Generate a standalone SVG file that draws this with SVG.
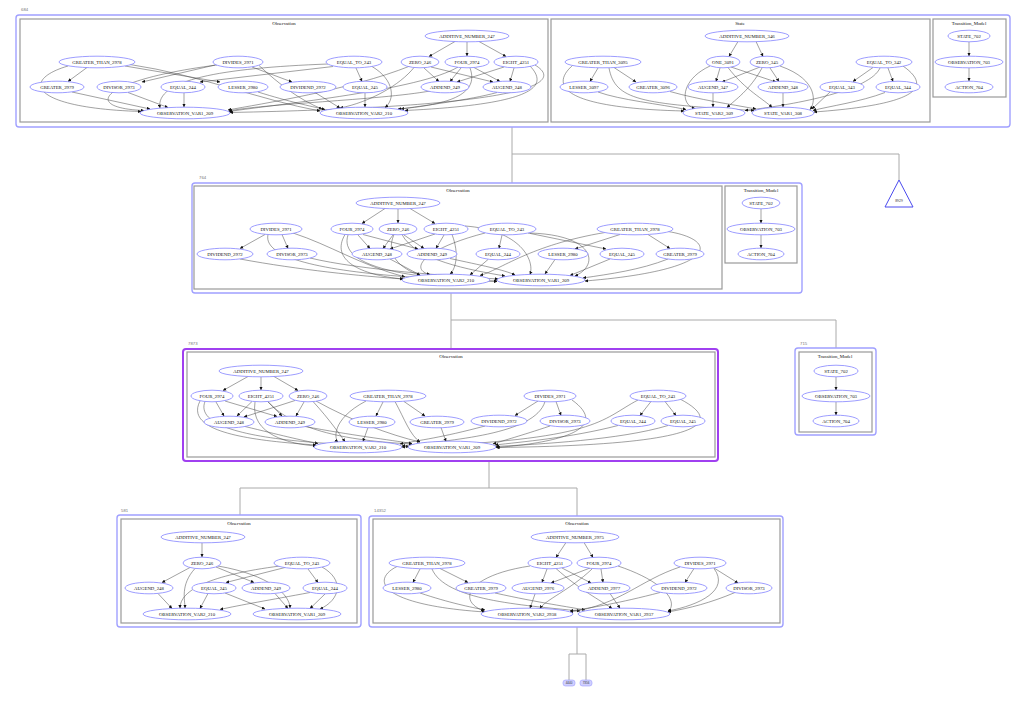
<svg xmlns="http://www.w3.org/2000/svg" width="1023" height="706" viewBox="0 0 1023 706">
<defs>
<marker id="ah" viewBox="0 0 10 10" refX="9" refY="5" markerWidth="3.6" markerHeight="3.6" markerUnits="userSpaceOnUse" orient="auto"><path d="M0,0.5 L10,5 L0,9.5z" fill="#111"/></marker>
<style>
.n ellipse{fill:#fff;stroke:#8484ff;stroke-width:0.8}
.n text,.cl{font-family:'Liberation Serif',serif;font-size:4.8px;text-anchor:middle;fill:#111}
.e path{fill:none;stroke:#444;stroke-width:0.5;marker-end:url(#ah)}
.ob{fill:none;stroke:#a0a0ff;stroke-width:1.4}
.pb{fill:none;stroke:#a040f0;stroke-width:2}
.ib{fill:none;stroke:#999;stroke-width:1.2}
.id{font-family:'Liberation Sans',sans-serif;font-size:4.3px;fill:#777}
.tr path{fill:none;stroke:#aaa;stroke-width:1}
.lf rect{fill:#d0d0ff;stroke:#9c9cff;stroke-width:0.6}
.lf text{font-family:'Liberation Sans',sans-serif;font-size:3px;text-anchor:middle;fill:#333}
</style>
</defs>
<rect width="1023" height="706" fill="#fff"/>

<g id="tree" class="tr">
<path d="M512,127 V183"/>
<path d="M512,154 H899 V180"/>
<path d="M451,293 V349"/>
<path d="M451,320 H836 V348"/>
<path d="M489,461 V488"/>
<path d="M240,488 H577"/>
<path d="M240,488 V515"/>
<path d="M577,488 V516"/>
<path d="M577,627 V654 M569,654 H586 M569,654 V680 M586,654 V680"/>
</g>

<!-- cluster frames -->
<g id="cluster_684">
<text class="id" x="21" y="11">684</text>
<rect class="ob" x="16" y="15" width="994" height="112" rx="3"/>
<rect class="ib" x="20" y="19" width="528" height="103"/>
<text class="cl" x="284" y="24.5">Observation</text>
<rect class="ib" x="551" y="19" width="379" height="103"/>
<text class="cl" x="740" y="24.5">State</text>
<rect class="ib" x="933" y="19" width="73" height="78"/>
<text class="cl" x="969" y="24.5">Transition_Model</text>
</g>
<g id="cluster_764">
<text class="id" x="199" y="179">764</text>
<rect class="ob" x="192" y="183" width="610" height="110" rx="3"/>
<rect class="ib" x="194" y="186" width="528" height="103"/>
<text class="cl" x="458" y="191.5">Observation</text>
<rect class="ib" x="725" y="186" width="72" height="77"/>
<text class="cl" x="761" y="191.5">Transition_Model</text>
</g>
<g id="cluster_7873">
<text class="id" x="188" y="345">7873</text>
<rect class="pb" x="183" y="349" width="535" height="112" rx="3"/>
<rect class="ib" x="187" y="352" width="528" height="105"/>
<text class="cl" x="451" y="358">Observation</text>
</g>
<g id="cluster_715">
<text class="id" x="800" y="345">715</text>
<rect class="ob" x="795" y="348" width="81" height="87" rx="3"/>
<rect class="ib" x="799" y="352" width="73" height="80"/>
<text class="cl" x="835" y="358">Transition_Model</text>
</g>
<g id="cluster_581">
<text class="id" x="121" y="512">581</text>
<rect class="ob" x="117" y="515" width="244" height="112" rx="3"/>
<rect class="ib" x="121" y="519" width="236" height="104"/>
<text class="cl" x="239" y="525">Observation</text>
</g>
<g id="cluster_14352">
<text class="id" x="374" y="512">14352</text>
<rect class="ob" x="369" y="516" width="414" height="111" rx="3"/>
<rect class="ib" x="373" y="519" width="407" height="104"/>
<text class="cl" x="577" y="525">Observation</text>
</g>

<g id="connectors" class="e">
<!-- 684 Observation -->
<path d="M455,41.5 L429,56.5"/>
<path d="M467,42 L467,56"/>
<path d="M479,41.5 L506,56.5"/>
<path d="M424,68 L439,81.5"/>
<path d="M431,67 L493,82"/>
<path d="M461,68 L450,81.5"/>
<path d="M474,67.5 L500,81.5"/>
<path d="M504,67 L457,82"/>
<path d="M514,68 L510,81.5"/>
<path d="M430,91 C380,100 260,104 229,111"/>
<path d="M497,92.5 C470,100 420,106 401,109"/>
<path d="M414,67.5 C400,85 370,102 340,108"/>
<path d="M410,66 C350,90 260,104 228,110"/>
<path d="M470,68 C478,90 460,104 398,109"/>
<path d="M458,67 C420,90 280,104 229,111.5"/>
<path d="M530,66 C548,85 540,104 405,110.5"/>
<path d="M535,65 C560,80 552,106 230,112.5"/>
<path d="M87,67.5 L68,81.5"/>
<path d="M125,66 L220,82"/>
<path d="M68,66 C20,80 30,108 141,111.5"/>
<path d="M130,64.5 C200,75 260,100 320,111"/>
<path d="M215,65 L142,82"/>
<path d="M252,67 L292,82"/>
<path d="M217,65 C100,80 80,108 144,110.5"/>
<path d="M259,65.5 C280,85 300,100 322,109"/>
<path d="M333,66.5 L200,82"/>
<path d="M356,68 L362,81.5"/>
<path d="M328,64 C220,68 155,80 160,108"/>
<path d="M372,66.5 C395,80 395,100 385,107.5"/>
<path d="M72,92 L150,109"/>
<path d="M128,92.5 L168,107.5"/>
<path d="M184,93 L184,107"/>
<path d="M258,92 C290,102 310,106 325,109.5"/>
<path d="M315,92.5 L340,108"/>
<path d="M365,93 L365,107"/>
<!-- State -->
<path d="M738,41.5 L729,56.5"/>
<path d="M756,41.5 L763,56.5"/>
<path d="M720,68 L716,81.5"/>
<path d="M731,67 L776,82"/>
<path d="M760,67 L722,82"/>
<path d="M770,68 L779,81.5"/>
<path d="M728,67.5 C745,90 765,100 772,107.5"/>
<path d="M710,66 C680,80 680,105 695,108.5"/>
<path d="M762,68 C750,90 735,100 727,107.5"/>
<path d="M780,66 C820,80 815,104 810,109.5"/>
<path d="M713,93 L713,107"/>
<path d="M783,93 L783,107"/>
<path d="M598,68 L590,81.5"/>
<path d="M614,67.5 L636,82"/>
<path d="M573,65 C550,85 560,108 684,111"/>
<path d="M609,68 C615,100 640,104 754,110.5"/>
<path d="M598,92 C620,100 660,104 686,109.5"/>
<path d="M670,91.5 C700,100 730,104 756,109"/>
<path d="M873,67.5 L853,81.5"/>
<path d="M888,68 L893,81.5"/>
<path d="M880,68 C870,90 800,104 745,110.5"/>
<path d="M903,66 C930,85 925,104 814,112"/>
<path d="M830,92 L812,109"/>
<path d="M885,92.5 C860,102 830,106 813,110.5"/>
<!-- TM 684 -->
<path d="M969,42 L969,56"/>
<path d="M969,68 L969,81"/>
<!-- 764 Observation -->
<path d="M385,208.5 L362,223.5"/>
<path d="M398,209 L398,223"/>
<path d="M410,208.5 L435,223.5"/>
<path d="M358,235 L370,248.5"/>
<path d="M363,234.5 L418,249"/>
<path d="M393,235 L383,248.5"/>
<path d="M404,235 L424,248.5"/>
<path d="M435,234 L390,249"/>
<path d="M444,235 L436,248.5"/>
<path d="M390,259 L420,275"/>
<path d="M450,258.5 C480,265 505,270 515,275"/>
<path d="M345,234.5 C330,260 360,275 403,279"/>
<path d="M348,235 C335,275 450,280 497,281"/>
<path d="M394,234.5 C385,255 400,268 420,275.5"/>
<path d="M402,234.5 C415,260 470,270 505,276"/>
<path d="M452,234.5 C460,255 455,270 450,274"/>
<path d="M465,226 C520,230 535,260 530,274.5"/>
<path d="M265,234.5 L240,248.5"/>
<path d="M282,234.5 L288,248.5"/>
<path d="M293,233 C330,245 360,265 405,277"/>
<path d="M268,234.5 C260,270 400,278 497,281.5"/>
<path d="M240,259 C300,270 360,276 403,279"/>
<path d="M310,258 C360,270 450,276 498,279"/>
<path d="M502,235 L499,248.5"/>
<path d="M528,233 L606,249"/>
<path d="M485,233 C420,250 410,270 430,274.5"/>
<path d="M530,233 C595,235 600,265 575,276"/>
<path d="M488,259.5 L470,275"/>
<path d="M610,259 L570,275.5"/>
<path d="M620,234.5 L575,249"/>
<path d="M648,234.5 L670,248.5"/>
<path d="M605,232.5 C530,245 500,270 480,275.5"/>
<path d="M668,231.5 C720,240 720,270 585,281"/>
<path d="M555,259.5 L545,274"/>
<path d="M668,259 C640,270 610,274 583,278"/>
<!-- TM 764 -->
<path d="M761,209 L761,223"/>
<path d="M761,235 L761,248"/>
<!-- 7873 Observation -->
<path d="M248,376.5 L223,390.5"/>
<path d="M261,377 L261,390"/>
<path d="M274,376.5 L298,390.5"/>
<path d="M216,402 L224,416"/>
<path d="M225,401 L277,416.5"/>
<path d="M252,401.5 L237,416"/>
<path d="M268,401.5 L282,416"/>
<path d="M295,400.5 L244,417"/>
<path d="M304,402 L296,416"/>
<path d="M245,426.5 C280,435 300,440 318,443.5"/>
<path d="M305,426.5 C350,435 390,440 412,443.5"/>
<path d="M200,401 C185,430 240,440 316,445"/>
<path d="M205,401.5 C190,440 330,445 409,446.5"/>
<path d="M255,402 C250,435 290,444 316,446"/>
<path d="M268,402 C290,425 330,440 412,444"/>
<path d="M313,401.5 C330,420 340,435 345,441.5"/>
<path d="M316,401 C350,420 390,435 420,442"/>
<path d="M383,402 L376,416"/>
<path d="M404,401.5 L425,416"/>
<path d="M366,401 C330,420 335,440 338,441.8"/>
<path d="M395,401.5 C405,420 410,435 420,442"/>
<path d="M368,427.5 L363,441.5"/>
<path d="M441,427.5 L446,441.5"/>
<path d="M538,401 L515,415.5"/>
<path d="M556,401.5 L561,415.5"/>
<path d="M545,401.5 C535,435 450,440 402,446"/>
<path d="M572,400 C600,420 590,440 497,447.5"/>
<path d="M485,426 C440,438 420,440 400,444"/>
<path d="M550,426 C520,436 505,440 493,444"/>
<path d="M651,401.5 L640,415.5"/>
<path d="M665,401.5 L676,415.5"/>
<path d="M638,400 C600,420 600,440 402,447"/>
<path d="M680,399 C720,420 720,445 496,447.5"/>
<path d="M618,425.5 C570,438 520,442 495,445"/>
<path d="M668,425.5 C620,440 540,444 496,446.5"/>
<!-- TM 715 -->
<path d="M836,377 L836,390"/>
<path d="M836,402 L836,415"/>
<!-- 581 -->
<path d="M202,543 L202,557"/>
<path d="M190,567.5 L162,582.5"/>
<path d="M216,567 L254,582.5"/>
<path d="M195,568.5 C180,585 185,600 185,608"/>
<path d="M218,566 C270,575 290,595 290,608"/>
<path d="M285,567.5 L226,582.5"/>
<path d="M308,569 L318,582.5"/>
<path d="M280,566 C210,575 180,590 180,608.2"/>
<path d="M322,567 C345,580 340,600 320,609"/>
<path d="M158,593.5 L172,608.5"/>
<path d="M208,593.5 L200,608.5"/>
<path d="M225,593 L265,609"/>
<path d="M275,593.5 L288,608.5"/>
<path d="M310,592.5 C270,600 240,605 220,609.5"/>
<path d="M325,594 L310,608.5"/>
<!-- 14352 -->
<path d="M566,542.5 L556,557.5"/>
<path d="M584,542.5 L593,557.5"/>
<path d="M547,569 L542,582.5"/>
<path d="M562,568 L591,583"/>
<path d="M590,568 L551,583"/>
<path d="M601,569 L603,582.5"/>
<path d="M530,566 C470,575 455,600 484,611"/>
<path d="M556,568.5 C580,590 600,600 612,608.5"/>
<path d="M592,569 C570,590 545,600 540,608.5"/>
<path d="M618,566 C660,580 680,600 668,612"/>
<path d="M535,594 L530,608.2"/>
<path d="M610,593.5 L620,608.2"/>
<path d="M420,569 L413,582.5"/>
<path d="M440,568.5 L468,582.5"/>
<path d="M397,566.5 C370,580 380,605 485,612"/>
<path d="M432,569 C445,600 520,605 580,611"/>
<path d="M420,593 C450,603 470,607 485,610"/>
<path d="M495,593 C540,603 570,607 585,610"/>
<path d="M694,568.5 L685,582.5"/>
<path d="M714,568 L738,583"/>
<path d="M680,567 C640,580 620,605 570,612"/>
<path d="M714,568.5 C730,590 700,605 668,611"/>
<path d="M660,592.5 C620,603 590,608 570,611"/>
<path d="M735,592.5 C710,603 690,608 668,612"/>
</g>

<!-- nodes 684 Observation -->
<g id="o684_ADDITIVE_NUMBER_247" class="n"><ellipse cx="467" cy="36" rx="42" ry="5.8"/><text x="467" y="37.7">ADDITIVE_NUMBER_247</text></g>
<g id="o684_GREATER_THAN_2978" class="n"><ellipse cx="97" cy="62" rx="38" ry="5.8"/><text x="97" y="63.7">GREATER_THAN_2978</text></g>
<g id="o684_DIVIDES_2971" class="n"><ellipse cx="238" cy="62" rx="25" ry="5.8"/><text x="238" y="63.7">DIVIDES_2971</text></g>
<g id="o684_EQUAL_TO_243" class="n"><ellipse cx="354" cy="62" rx="28" ry="5.8"/><text x="354" y="63.7">EQUAL_TO_243</text></g>
<g id="o684_ZERO_246" class="n"><ellipse cx="420" cy="62" rx="19" ry="5.8"/><text x="420" y="63.7">ZERO_246</text></g>
<g id="o684_FOUR_2974" class="n"><ellipse cx="467" cy="62" rx="22" ry="5.8"/><text x="467" y="63.7">FOUR_2974</text></g>
<g id="o684_EIGHT_4251" class="n"><ellipse cx="516" cy="62" rx="22" ry="5.8"/><text x="516" y="63.7">EIGHT_4251</text></g>
<g id="o684_GREATER_2979" class="n"><ellipse cx="57" cy="87" rx="27" ry="5.8"/><text x="57" y="88.7">GREATER_2979</text></g>
<g id="o684_DIVISOR_2973" class="n"><ellipse cx="119" cy="87" rx="22" ry="5.8"/><text x="119" y="88.7">DIVISOR_2973</text></g>
<g id="o684_EQUAL_244" class="n"><ellipse cx="183" cy="87" rx="22" ry="5.8"/><text x="183" y="88.7">EQUAL_244</text></g>
<g id="o684_LESSER_2980" class="n"><ellipse cx="243" cy="87" rx="25" ry="5.8"/><text x="243" y="88.7">LESSER_2980</text></g>
<g id="o684_DIVIDEND_2972" class="n"><ellipse cx="308" cy="87" rx="28" ry="5.8"/><text x="308" y="88.7">DIVIDEND_2972</text></g>
<g id="o684_EQUAL_245" class="n"><ellipse cx="365" cy="87" rx="22" ry="5.8"/><text x="365" y="88.7">EQUAL_245</text></g>
<g id="o684_ADDEND_249" class="n"><ellipse cx="445" cy="87" rx="24" ry="5.8"/><text x="445" y="88.7">ADDEND_249</text></g>
<g id="o684_AUGEND_248" class="n"><ellipse cx="507" cy="87" rx="24" ry="5.8"/><text x="507" y="88.7">AUGEND_248</text></g>
<g id="o684_OBSERVATION_VAR1_209" class="n"><ellipse cx="185" cy="113" rx="45" ry="5.8"/><text x="185" y="114.7">OBSERVATION_VAR1_209</text></g>
<g id="o684_OBSERVATION_VAR2_210" class="n"><ellipse cx="364" cy="113" rx="44" ry="5.8"/><text x="364" y="114.7">OBSERVATION_VAR2_210</text></g>
<!-- State -->
<g id="s684_ADDITIVE_NUMBER_346" class="n"><ellipse cx="747" cy="36" rx="42" ry="5.8"/><text x="747" y="37.7">ADDITIVE_NUMBER_346</text></g>
<g id="s684_GREATER_THAN_3095" class="n"><ellipse cx="603" cy="62" rx="38" ry="5.8"/><text x="603" y="63.7">GREATER_THAN_3095</text></g>
<g id="s684_ONE_3091" class="n"><ellipse cx="723" cy="62" rx="17" ry="5.8"/><text x="723" y="63.7">ONE_3091</text></g>
<g id="s684_ZERO_345" class="n"><ellipse cx="767" cy="62" rx="17" ry="5.8"/><text x="767" y="63.7">ZERO_345</text></g>
<g id="s684_EQUAL_TO_342" class="n"><ellipse cx="884" cy="62" rx="28" ry="5.8"/><text x="884" y="63.7">EQUAL_TO_342</text></g>
<g id="s684_LESSER_3097" class="n"><ellipse cx="584" cy="87" rx="24" ry="5.8"/><text x="584" y="88.7">LESSER_3097</text></g>
<g id="s684_GREATER_3096" class="n"><ellipse cx="653" cy="87" rx="24" ry="5.8"/><text x="653" y="88.7">GREATER_3096</text></g>
<g id="s684_AUGEND_347" class="n"><ellipse cx="713" cy="87" rx="25" ry="5.8"/><text x="713" y="88.7">AUGEND_347</text></g>
<g id="s684_ADDEND_348" class="n"><ellipse cx="783" cy="87" rx="25" ry="5.8"/><text x="783" y="88.7">ADDEND_348</text></g>
<g id="s684_EQUAL_343" class="n"><ellipse cx="842" cy="87" rx="22" ry="5.8"/><text x="842" y="88.7">EQUAL_343</text></g>
<g id="s684_EQUAL_344" class="n"><ellipse cx="898" cy="87" rx="22" ry="5.8"/><text x="898" y="88.7">EQUAL_344</text></g>
<g id="s684_STATE_VAR2_309" class="n"><ellipse cx="714" cy="113" rx="31" ry="5.8"/><text x="714" y="114.7">STATE_VAR2_309</text></g>
<g id="s684_STATE_VAR1_308" class="n"><ellipse cx="783" cy="113" rx="31" ry="5.8"/><text x="783" y="114.7">STATE_VAR1_308</text></g>
<!-- TM 684 -->
<g id="t684_STATE_702" class="n"><ellipse cx="969" cy="36" rx="21" ry="5.8"/><text x="969" y="37.7">STATE_702</text></g>
<g id="t684_OBSERVATION_703" class="n"><ellipse cx="969" cy="62" rx="34" ry="5.8"/><text x="969" y="63.7">OBSERVATION_703</text></g>
<g id="t684_ACTION_704" class="n"><ellipse cx="969" cy="87" rx="24" ry="5.8"/><text x="969" y="88.7">ACTION_704</text></g>

<!-- 764 -->
<g id="o764_ADDITIVE_NUMBER_247" class="n"><ellipse cx="398" cy="203" rx="42" ry="5.8"/><text x="398" y="204.7">ADDITIVE_NUMBER_247</text></g>
<g id="o764_DIVIDES_2971" class="n"><ellipse cx="276" cy="229" rx="26" ry="5.8"/><text x="276" y="230.7">DIVIDES_2971</text></g>
<g id="o764_FOUR_2974" class="n"><ellipse cx="352" cy="229" rx="21" ry="5.8"/><text x="352" y="230.7">FOUR_2974</text></g>
<g id="o764_ZERO_246" class="n"><ellipse cx="398" cy="229" rx="19" ry="5.8"/><text x="398" y="230.7">ZERO_246</text></g>
<g id="o764_EIGHT_4251" class="n"><ellipse cx="446" cy="229" rx="22" ry="5.8"/><text x="446" y="230.7">EIGHT_4251</text></g>
<g id="o764_EQUAL_TO_243" class="n"><ellipse cx="507" cy="229" rx="29" ry="5.8"/><text x="507" y="230.7">EQUAL_TO_243</text></g>
<g id="o764_GREATER_THAN_2978" class="n"><ellipse cx="635" cy="229" rx="38" ry="5.8"/><text x="635" y="230.7">GREATER_THAN_2978</text></g>
<g id="o764_DIVIDEND_2972" class="n"><ellipse cx="225" cy="254" rx="28" ry="5.8"/><text x="225" y="255.7">DIVIDEND_2972</text></g>
<g id="o764_DIVISOR_2973" class="n"><ellipse cx="292" cy="254" rx="25" ry="5.8"/><text x="292" y="255.7">DIVISOR_2973</text></g>
<g id="o764_AUGEND_248" class="n"><ellipse cx="377" cy="254" rx="25" ry="5.8"/><text x="377" y="255.7">AUGEND_248</text></g>
<g id="o764_ADDEND_249" class="n"><ellipse cx="432" cy="254" rx="25" ry="5.8"/><text x="432" y="255.7">ADDEND_249</text></g>
<g id="o764_EQUAL_244" class="n"><ellipse cx="498" cy="254" rx="22" ry="5.8"/><text x="498" y="255.7">EQUAL_244</text></g>
<g id="o764_LESSER_2980" class="n"><ellipse cx="563" cy="254" rx="25" ry="5.8"/><text x="563" y="255.7">LESSER_2980</text></g>
<g id="o764_EQUAL_245" class="n"><ellipse cx="622" cy="254" rx="22" ry="5.8"/><text x="622" y="255.7">EQUAL_245</text></g>
<g id="o764_GREATER_2979" class="n"><ellipse cx="680" cy="254" rx="24" ry="5.8"/><text x="680" y="255.7">GREATER_2979</text></g>
<g id="o764_OBSERVATION_VAR2_210" class="n"><ellipse cx="446" cy="280" rx="44" ry="5.8"/><text x="446" y="281.7">OBSERVATION_VAR2_210</text></g>
<g id="o764_OBSERVATION_VAR1_209" class="n"><ellipse cx="541" cy="280" rx="44" ry="5.8"/><text x="541" y="281.7">OBSERVATION_VAR1_209</text></g>
<g id="t764_STATE_702" class="n"><ellipse cx="761" cy="203" rx="19" ry="5.8"/><text x="761" y="204.7">STATE_702</text></g>
<g id="t764_OBSERVATION_703" class="n"><ellipse cx="761" cy="229" rx="34" ry="5.8"/><text x="761" y="230.7">OBSERVATION_703</text></g>
<g id="t764_ACTION_704" class="n"><ellipse cx="761" cy="254" rx="23" ry="5.8"/><text x="761" y="255.7">ACTION_704</text></g>

<!-- 7873 -->
<g id="o7873_ADDITIVE_NUMBER_247" class="n"><ellipse cx="261" cy="371" rx="42" ry="5.8"/><text x="261" y="372.7">ADDITIVE_NUMBER_247</text></g>
<g id="o7873_FOUR_2974" class="n"><ellipse cx="212" cy="396" rx="21" ry="5.8"/><text x="212" y="397.7">FOUR_2974</text></g>
<g id="o7873_EIGHT_4251" class="n"><ellipse cx="261" cy="396" rx="22" ry="5.8"/><text x="261" y="397.7">EIGHT_4251</text></g>
<g id="o7873_ZERO_246" class="n"><ellipse cx="308" cy="396" rx="19" ry="5.8"/><text x="308" y="397.7">ZERO_246</text></g>
<g id="o7873_GREATER_THAN_2978" class="n"><ellipse cx="388" cy="396" rx="38" ry="5.8"/><text x="388" y="397.7">GREATER_THAN_2978</text></g>
<g id="o7873_DIVIDES_2971" class="n"><ellipse cx="550" cy="396" rx="26" ry="5.8"/><text x="550" y="397.7">DIVIDES_2971</text></g>
<g id="o7873_EQUAL_TO_243" class="n"><ellipse cx="658" cy="396" rx="28" ry="5.8"/><text x="658" y="397.7">EQUAL_TO_243</text></g>
<g id="o7873_AUGEND_248" class="n"><ellipse cx="229" cy="422" rx="25" ry="5.8"/><text x="229" y="423.7">AUGEND_248</text></g>
<g id="o7873_ADDEND_249" class="n"><ellipse cx="290" cy="422" rx="25" ry="5.8"/><text x="290" y="423.7">ADDEND_249</text></g>
<g id="o7873_LESSER_2980" class="n"><ellipse cx="372" cy="422" rx="23" ry="5.8"/><text x="372" y="423.7">LESSER_2980</text></g>
<g id="o7873_GREATER_2979" class="n"><ellipse cx="437" cy="422" rx="27" ry="5.8"/><text x="437" y="423.7">GREATER_2979</text></g>
<g id="o7873_DIVIDEND_2972" class="n"><ellipse cx="499" cy="421" rx="28" ry="5.8"/><text x="499" y="422.7">DIVIDEND_2972</text></g>
<g id="o7873_DIVISOR_2973" class="n"><ellipse cx="565" cy="421" rx="25" ry="5.8"/><text x="565" y="422.7">DIVISOR_2973</text></g>
<g id="o7873_EQUAL_244" class="n"><ellipse cx="633" cy="421" rx="22" ry="5.8"/><text x="633" y="422.7">EQUAL_244</text></g>
<g id="o7873_EQUAL_245" class="n"><ellipse cx="683" cy="421" rx="22" ry="5.8"/><text x="683" y="422.7">EQUAL_245</text></g>
<g id="o7873_OBSERVATION_VAR2_210" class="n"><ellipse cx="358" cy="447" rx="44" ry="5.8"/><text x="358" y="448.7">OBSERVATION_VAR2_210</text></g>
<g id="o7873_OBSERVATION_VAR1_209" class="n"><ellipse cx="452" cy="447" rx="44" ry="5.8"/><text x="452" y="448.7">OBSERVATION_VAR1_209</text></g>
<!-- 715 -->
<g id="t715_STATE_702" class="n"><ellipse cx="836" cy="371" rx="22" ry="5.8"/><text x="836" y="372.7">STATE_702</text></g>
<g id="t715_OBSERVATION_703" class="n"><ellipse cx="836" cy="396" rx="34" ry="5.8"/><text x="836" y="397.7">OBSERVATION_703</text></g>
<g id="t715_ACTION_704" class="n"><ellipse cx="836" cy="421" rx="23" ry="5.8"/><text x="836" y="422.7">ACTION_704</text></g>

<!-- 581 -->
<g id="o581_ADDITIVE_NUMBER_247" class="n"><ellipse cx="203" cy="537" rx="42" ry="5.8"/><text x="203" y="538.7">ADDITIVE_NUMBER_247</text></g>
<g id="o581_ZERO_246" class="n"><ellipse cx="202" cy="563" rx="19" ry="5.8"/><text x="202" y="564.7">ZERO_246</text></g>
<g id="o581_EQUAL_TO_243" class="n"><ellipse cx="302" cy="563" rx="28" ry="5.8"/><text x="302" y="564.7">EQUAL_TO_243</text></g>
<g id="o581_AUGEND_248" class="n"><ellipse cx="149" cy="588" rx="24" ry="5.8"/><text x="149" y="589.7">AUGEND_248</text></g>
<g id="o581_EQUAL_245" class="n"><ellipse cx="214" cy="588" rx="22" ry="5.8"/><text x="214" y="589.7">EQUAL_245</text></g>
<g id="o581_ADDEND_249" class="n"><ellipse cx="266" cy="588" rx="24" ry="5.8"/><text x="266" y="589.7">ADDEND_249</text></g>
<g id="o581_EQUAL_244" class="n"><ellipse cx="325" cy="588" rx="22" ry="5.8"/><text x="325" y="589.7">EQUAL_244</text></g>
<g id="o581_OBSERVATION_VAR2_210" class="n"><ellipse cx="187" cy="614" rx="44" ry="5.8"/><text x="187" y="615.7">OBSERVATION_VAR2_210</text></g>
<g id="o581_OBSERVATION_VAR1_209" class="n"><ellipse cx="297" cy="614" rx="44" ry="5.8"/><text x="297" y="615.7">OBSERVATION_VAR1_209</text></g>

<!-- 14352 -->
<g id="o14352_ADDITIVE_NUMBER_2975" class="n"><ellipse cx="575" cy="537" rx="44" ry="5.8"/><text x="575" y="538.7">ADDITIVE_NUMBER_2975</text></g>
<g id="o14352_GREATER_THAN_2978" class="n"><ellipse cx="427" cy="563" rx="38" ry="5.8"/><text x="427" y="564.7">GREATER_THAN_2978</text></g>
<g id="o14352_EIGHT_4251" class="n"><ellipse cx="550" cy="563" rx="22" ry="5.8"/><text x="550" y="564.7">EIGHT_4251</text></g>
<g id="o14352_FOUR_2974" class="n"><ellipse cx="599" cy="563" rx="22" ry="5.8"/><text x="599" y="564.7">FOUR_2974</text></g>
<g id="o14352_DIVIDES_2971" class="n"><ellipse cx="700" cy="563" rx="26" ry="5.8"/><text x="700" y="564.7">DIVIDES_2971</text></g>
<g id="o14352_LESSER_2980" class="n"><ellipse cx="407" cy="588" rx="24" ry="5.8"/><text x="407" y="589.7">LESSER_2980</text></g>
<g id="o14352_GREATER_2979" class="n"><ellipse cx="481" cy="588" rx="25" ry="5.8"/><text x="481" y="589.7">GREATER_2979</text></g>
<g id="o14352_AUGEND_2976" class="n"><ellipse cx="538" cy="588" rx="26" ry="5.8"/><text x="538" y="589.7">AUGEND_2976</text></g>
<g id="o14352_ADDEND_2977" class="n"><ellipse cx="604" cy="588" rx="26" ry="5.8"/><text x="604" y="589.7">ADDEND_2977</text></g>
<g id="o14352_DIVIDEND_2972" class="n"><ellipse cx="679" cy="588" rx="28" ry="5.8"/><text x="679" y="589.7">DIVIDEND_2972</text></g>
<g id="o14352_DIVISOR_2973" class="n"><ellipse cx="749" cy="588" rx="23" ry="5.8"/><text x="749" y="589.7">DIVISOR_2973</text></g>
<g id="o14352_OBSERVATION_VAR2_2938" class="n"><ellipse cx="527" cy="614" rx="46" ry="5.8"/><text x="527" y="615.7">OBSERVATION_VAR2_2938</text></g>
<g id="o14352_OBSERVATION_VAR1_2937" class="n"><ellipse cx="624" cy="614" rx="46" ry="5.8"/><text x="624" y="615.7">OBSERVATION_VAR1_2937</text></g>

<!-- leaves -->
<g id="node_8929"><path d="M899,180 L885,207 L913,207 Z" fill="#fff" stroke="#4a4aee" stroke-width="1"/><text x="899" y="202" font-family="Liberation Sans, sans-serif" font-size="3.4" text-anchor="middle" fill="#333">8929</text></g>
<g id="node_4440" class="lf"><rect x="563" y="680" width="12" height="6" rx="2.5"/><text x="569" y="684.1">4440</text></g>
<g id="node_7356" class="lf"><rect x="580" y="680" width="12" height="6" rx="2.5"/><text x="586" y="684.1">7356</text></g>
</svg>
